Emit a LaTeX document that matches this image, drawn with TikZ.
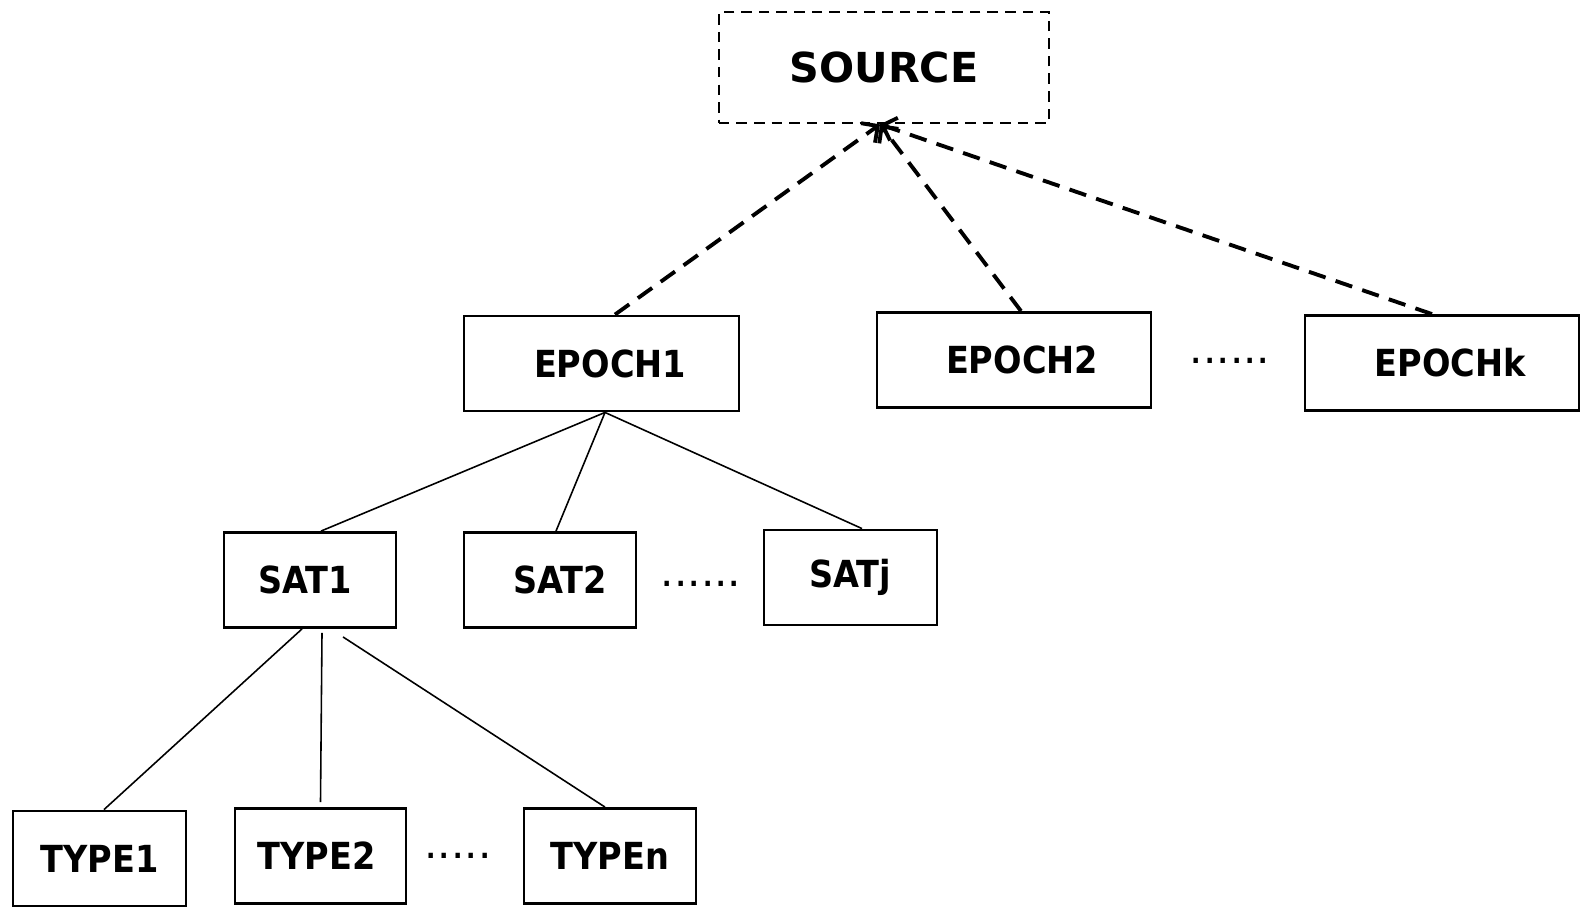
\documentclass[tikz,border=0pt]{standalone}
\usepackage{fontspec}
\setsansfont{DejaVu Sans}
\newfontfamily\condsf{DejaVu Sans Condensed}
\usetikzlibrary{arrows.meta}

\tikzstyle{box}=[rectangle,draw,line width=0.8pt,inner sep=0pt,minimum height=0.95cm,font=\condsf\bfseries\fontsize{10.6}{12}\selectfont]
\tikzstyle{srcbox}=[rectangle,draw,line width=0.75pt,dash pattern=on 3pt off 2pt,inner sep=0pt,minimum height=1.11cm,minimum width=3.3cm,font=\sffamily\bfseries\fontsize{11.75}{13}\selectfont]
\tikzstyle{link}=[line width=0.45pt]
\tikzstyle{dlink}=[line width=1.1pt,dash pattern=on 5pt off 3pt,-{Straight Barb[length=1.2mm,width=2.4mm]}]
\tikzstyle{etc}=[inner sep=0pt,anchor=base,font=\sffamily\fontsize{12}{12}\selectfont]

\begin{document}
\begin{tikzpicture}[x=0.01cm,y=-0.01cm]
  \useasboundingbox (0,0) rectangle (1581,908);

  \node[srcbox] (source) at (884,67.5) {SOURCE};

  % epochs
  \node[box,minimum width=2.75cm] (epoch1) at (601.5,363.5) {\hspace{0.17cm}EPOCH1};
  \node[box,minimum width=2.74cm] (epoch2) at (1014,360) {\hspace{0.16cm}EPOCH2};
  \node[box,minimum width=2.74cm] (epochk) at (1442,363) {\hspace{0.16cm}EPOCHk};
  \node[etc] (epochdots) at (1230,363) {......};

  % satellites
  \node[box,minimum width=1.72cm] (sat1) at (310,580) {\hspace{-0.1cm}SAT1};
  \node[box,minimum width=1.72cm] (sat2) at (550,580) {\hspace{0.2cm}SAT2};
  \node[box,minimum width=1.73cm] (satj) at (850.5,577.5) {SATj};
  \node[etc] (satdots) at (701,586) {......};

  % types
  \node[box,minimum width=1.73cm] (type1) at (99.5,858.5) {TYPE1};
  \node[box,minimum width=1.71cm] (type2) at (320.5,856) {\hspace{-0.08cm}TYPE2};
  \node[box,minimum width=1.72cm] (typen) at (610,856) {TYPEn};
  \node[etc] (typedots) at (458,858) {.....};

  \draw[dlink] ([xshift=0.135cm] epoch1.north) -- ([xshift=-0.04cm] source.south);
  \draw[dlink] ([xshift=0.07cm] epoch2.north) -- ([xshift=-0.04cm] source.south);
  \draw[dlink] ([xshift=-0.1cm] epochk.north) -- ([xshift=-0.04cm] source.south);

  \draw[link] ([xshift=0.035cm] epoch1.south) -- ([xshift=0.11cm] sat1.north);
  \draw[link] ([xshift=0.035cm] epoch1.south) -- ([xshift=0.06cm] sat2.north);
  \draw[link] ([xshift=0.035cm] epoch1.south) -- ([xshift=0.115cm] satj.north);

  \draw[link] ([xshift=-0.08cm] sat1.south) -- ([xshift=0.045cm] type1.north);
  \draw[link] ([xshift=0.12cm,yshift=-0.04cm] sat1.south) -- ([yshift=0.05cm] type2.north);
  \draw[link] ([xshift=0.33cm,yshift=-0.08cm] sat1.south) -- ([xshift=-0.05cm] typen.north);
\end{tikzpicture}
\end{document}
